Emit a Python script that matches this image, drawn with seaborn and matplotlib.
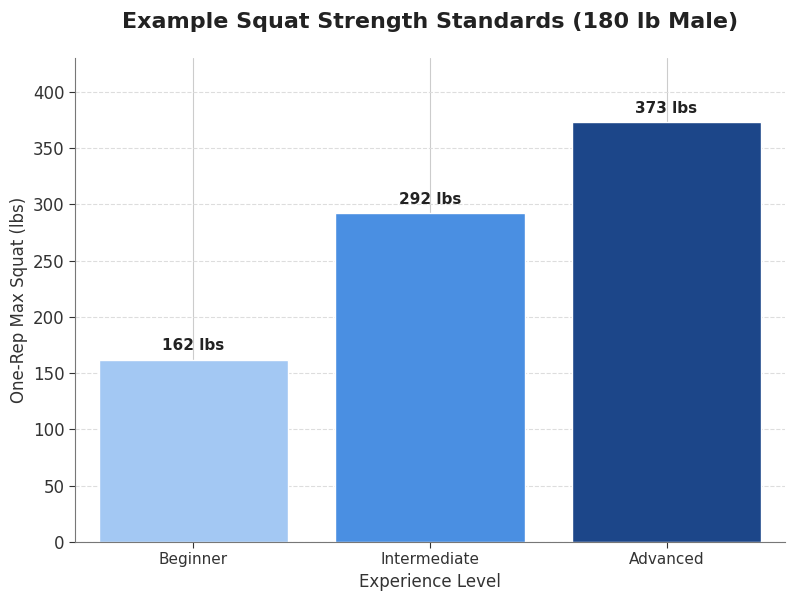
import matplotlib
matplotlib.use("Agg")
import matplotlib.pyplot as plt
import seaborn as sns
import pandas as pd

levels = ["Beginner", "Intermediate", "Advanced"]
squat = [162, 292, 373]
colors = ["#A3C8F3", "#4A8FE2", "#1C4689"]

df = pd.DataFrame({"level": levels, "squat": squat})
sns.set_style("white")
fig, ax = plt.subplots(figsize=(8, 6), dpi=100)
fig.subplots_adjust(left=0.094, right=0.981, top=0.903, bottom=0.097)
sns.barplot(data=df, x="level", y="squat", hue="level", palette=colors,
            width=0.8, ax=ax, legend=False, saturation=1, zorder=2)
ax.set_ylim(0, 430)
ax.yaxis.grid(True, linestyle="--", color="#dddddd", linewidth=0.8)
ax.xaxis.grid(True, linestyle="-", color="#cccccc", linewidth=0.8)
ax.set_axisbelow(True)
for s in ["top", "right"]:
    ax.spines[s].set_visible(False)
for s in ["left", "bottom"]:
    ax.spines[s].set_color("#777777")
for i, v in enumerate(squat):
    ax.text(i, v + 6, f"{v} lbs", ha="center", va="bottom", fontsize=11,
            fontweight="bold", color="#222222")
ax.set_title("Example Squat Strength Standards (180 lb Male)", fontsize=16,
             fontweight="bold", color="#222222", pad=22)
ax.set_xlabel("Experience Level", fontsize=12, color="#333333")
ax.set_ylabel("One-Rep Max Squat (lbs)", fontsize=12, color="#333333")
ax.tick_params(axis="y", labelsize=12, colors="#333333", left=True, length=4)
ax.tick_params(axis="x", labelsize=11, colors="#333333", bottom=True, length=4)
fig.savefig("out.png", dpi=100)
